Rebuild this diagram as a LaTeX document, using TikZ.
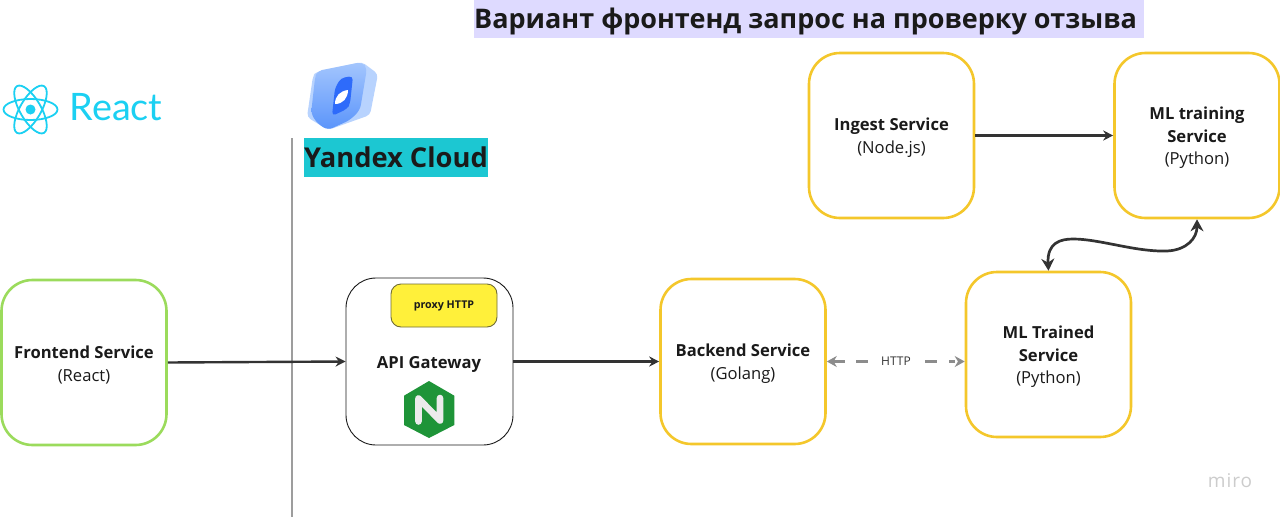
\documentclass[tikz,border=0pt]{standalone}
\usepackage{fontspec}
\setmainfont{Open Sans}
\newfontfamily\lato{Lato}
\usetikzlibrary{arrows.meta}
\definecolor{ybox}{HTML}{F4C72B}
\definecolor{gbox}{HTML}{9BDB5C}
\definecolor{ink}{HTML}{1A1A1A}
\definecolor{dark}{HTML}{333333}
\definecolor{greyline}{HTML}{8C8C8C}
\definecolor{cyanr}{HTML}{1BD0F2}
\definecolor{titlebg}{HTML}{DEDAFF}
\definecolor{ycbg}{HTML}{1CC7D2}
\definecolor{proxyy}{HTML}{FFF03A}
\definecolor{ngreen}{HTML}{1E9438}
\definecolor{ylight}{HTML}{B8D3FE}
\definecolor{ymid}{HTML}{A4C6FD}
\definecolor{ystrong}{HTML}{5A94FB}
\definecolor{ydeep}{HTML}{2E6BFA}
\newcommand\dn{\rule{0pt}{17pt}}
\tikzset{
  box/.style={draw=#1,line width=2.6pt,rounded corners=31pt,fill=white,align=center,
    minimum width=165pt,minimum height=165pt,inner sep=0pt,text=ink,
    font=\fontsize{16.6}{22.8}\selectfont},
  conn/.style={draw=dark,line width=2.4pt,-{Stealth[length=10pt,width=10pt]}},
  dualconn/.style={draw=dark,line width=2.7pt,{Stealth[length=12pt,width=13pt]}-{Stealth[length=12pt,width=13pt]}},
  dashconn/.style={draw=greyline,line width=2.4pt,dash pattern=on 12pt off 11pt on 12pt off 57pt on 12pt off 12pt on 6pt,{Stealth[length=10pt,width=11pt]}-{Stealth[length=10pt,width=11pt]}},
}
\begin{document}
\begin{tikzpicture}[x=1pt,y=-1pt]
\useasboundingbox (0,0) rectangle (1280,517);
% title
\node[fill=titlebg,minimum width=670pt,minimum height=38pt,inner sep=0pt] (titlebar) at (809,19) {};
\node[anchor=west,inner sep=0pt,text=ink,font=\fontsize{27}{30}\selectfont\bfseries] (title) at (474,21) {Вариант фронтенд запрос на проверку отзыва};
% vertical divider
\coordinate (divtop) at (292,138);
\coordinate (divbot) at (292,517);
\draw[draw=greyline!85!white,line width=1.1pt] (divtop) -- (divbot);
% React logo
\begin{scope}[shift={(30.5,109.5)}]
  \foreach \a in {0,60,120}
    \draw[cyanr,line width=1.8pt,rotate=\a] (0,0) ellipse (27pt and 10.5pt);
  \fill[cyanr] (0,0) circle (5pt);
\end{scope}
\node[text=cyanr,inner sep=0pt,font=\fontsize{37.8}{38}\selectfont\lato] (react) at (116,107) {React};
% Yandex Cloud logo
\fill[ylight,rounded corners=4pt] (316,72) -- (362,62) -- (378,74) -- (370,115) -- (328,130) -- (307,117) -- (313,76) -- cycle;
\shade[top color=ymid,bottom color=ystrong,rounded corners=5pt]
  (317,71) -- (362,62) -- (367,68) -- (360,110) -- (350,120) -- (328,130) -- (318,124) -- (311,114) -- (315,78) -- cycle;
\fill[ydeep,rounded corners=4pt] (341,78) -- (353,76) -- (350,104) -- (347,109) -- (332,116) -- (335,88) -- cycle;
\fill[white] (335,104) .. controls (335,96) and (340,91) .. (348,90) .. controls (348,98) and (343,104) .. (335,104) -- cycle;
\node[fill=ycbg,minimum width=184pt,minimum height=39pt,inner sep=0pt,text=ink,
  font=\fontsize{27.3}{30}\selectfont\bfseries] (yc) at (396,157.5) {Yandex Cloud};
% service boxes
\node[box=gbox] (front) at (84,362.5) {\dn\textbf{Frontend Service}\\(React)};
\node[draw=ink,line width=.9pt,rounded corners=30pt,fill=white,minimum width=167pt,minimum height=167pt,inner sep=0pt] (gw) at (429.5,361.5) {};
\node[draw=dark!70!proxyy,line width=.9pt,rounded corners=10pt,fill=proxyy,minimum width=106pt,minimum height=43pt,inner sep=0pt,
  text=ink,font=\fontsize{10.7}{12}\selectfont\bfseries] (proxy) at (444,305.5) {proxy HTTP};
\node[text=ink,inner sep=0pt,font=\fontsize{16.6}{20}\selectfont\bfseries] (gwlabel) at (429,364) {API Gateway};
\node[box=ybox] (backend) at (743,361.5) {\dn\textbf{Backend Service}\\(Golang)};
\node[box=ybox] (trained) at (1048.5,354.5) {\dn\textbf{ML Trained}\\\textbf{Service}\\(Python)};
\node[box=ybox] (ingest) at (891.5,135.5) {\dn\textbf{Ingest Service}\\(Node.js)};
\node[box=ybox] (mltrain) at (1197,135.5) {\dn\textbf{ML training}\\\textbf{Service}\\(Python)};
% nginx logo
\fill[ngreen] (429,381) -- (454.3,395.7) -- (454.3,425) -- (429,438) -- (404,425) -- (404,395.7) -- cycle;
\draw[draw=white!92!black,line width=6.6pt,line join=round,line cap=round] (418.5,421.5) -- (418.5,398.5) -- (440,420.5) -- (440,398);
% connectors
\draw[conn] (front.east) -- (gw.west);
\draw[conn] (gw.east) -- (backend.west);
\draw[conn] (ingest.east) -- (mltrain.west);
\draw[dualconn] (trained.north) .. controls (1047,243) and (1060,239) .. (1073,239)
  .. controls (1100,239) and (1135,252) .. (1167,251) .. controls (1187,250) and (1197,238) .. (mltrain.south);
\draw[dashconn] (backend.east) -- (trained.west |- backend.east);
\node[inner sep=0pt,text=dark,font=\fontsize{12}{14}\selectfont] (http) at (896,361.5) {HTTP};
% watermark
\node[text=gray!40!white,inner sep=0pt,font=\fontsize{19}{20}\selectfont\addfontfeature{LetterSpace=5}] (miro) at (1230,481) {miro};
\end{tikzpicture}
\end{document}
